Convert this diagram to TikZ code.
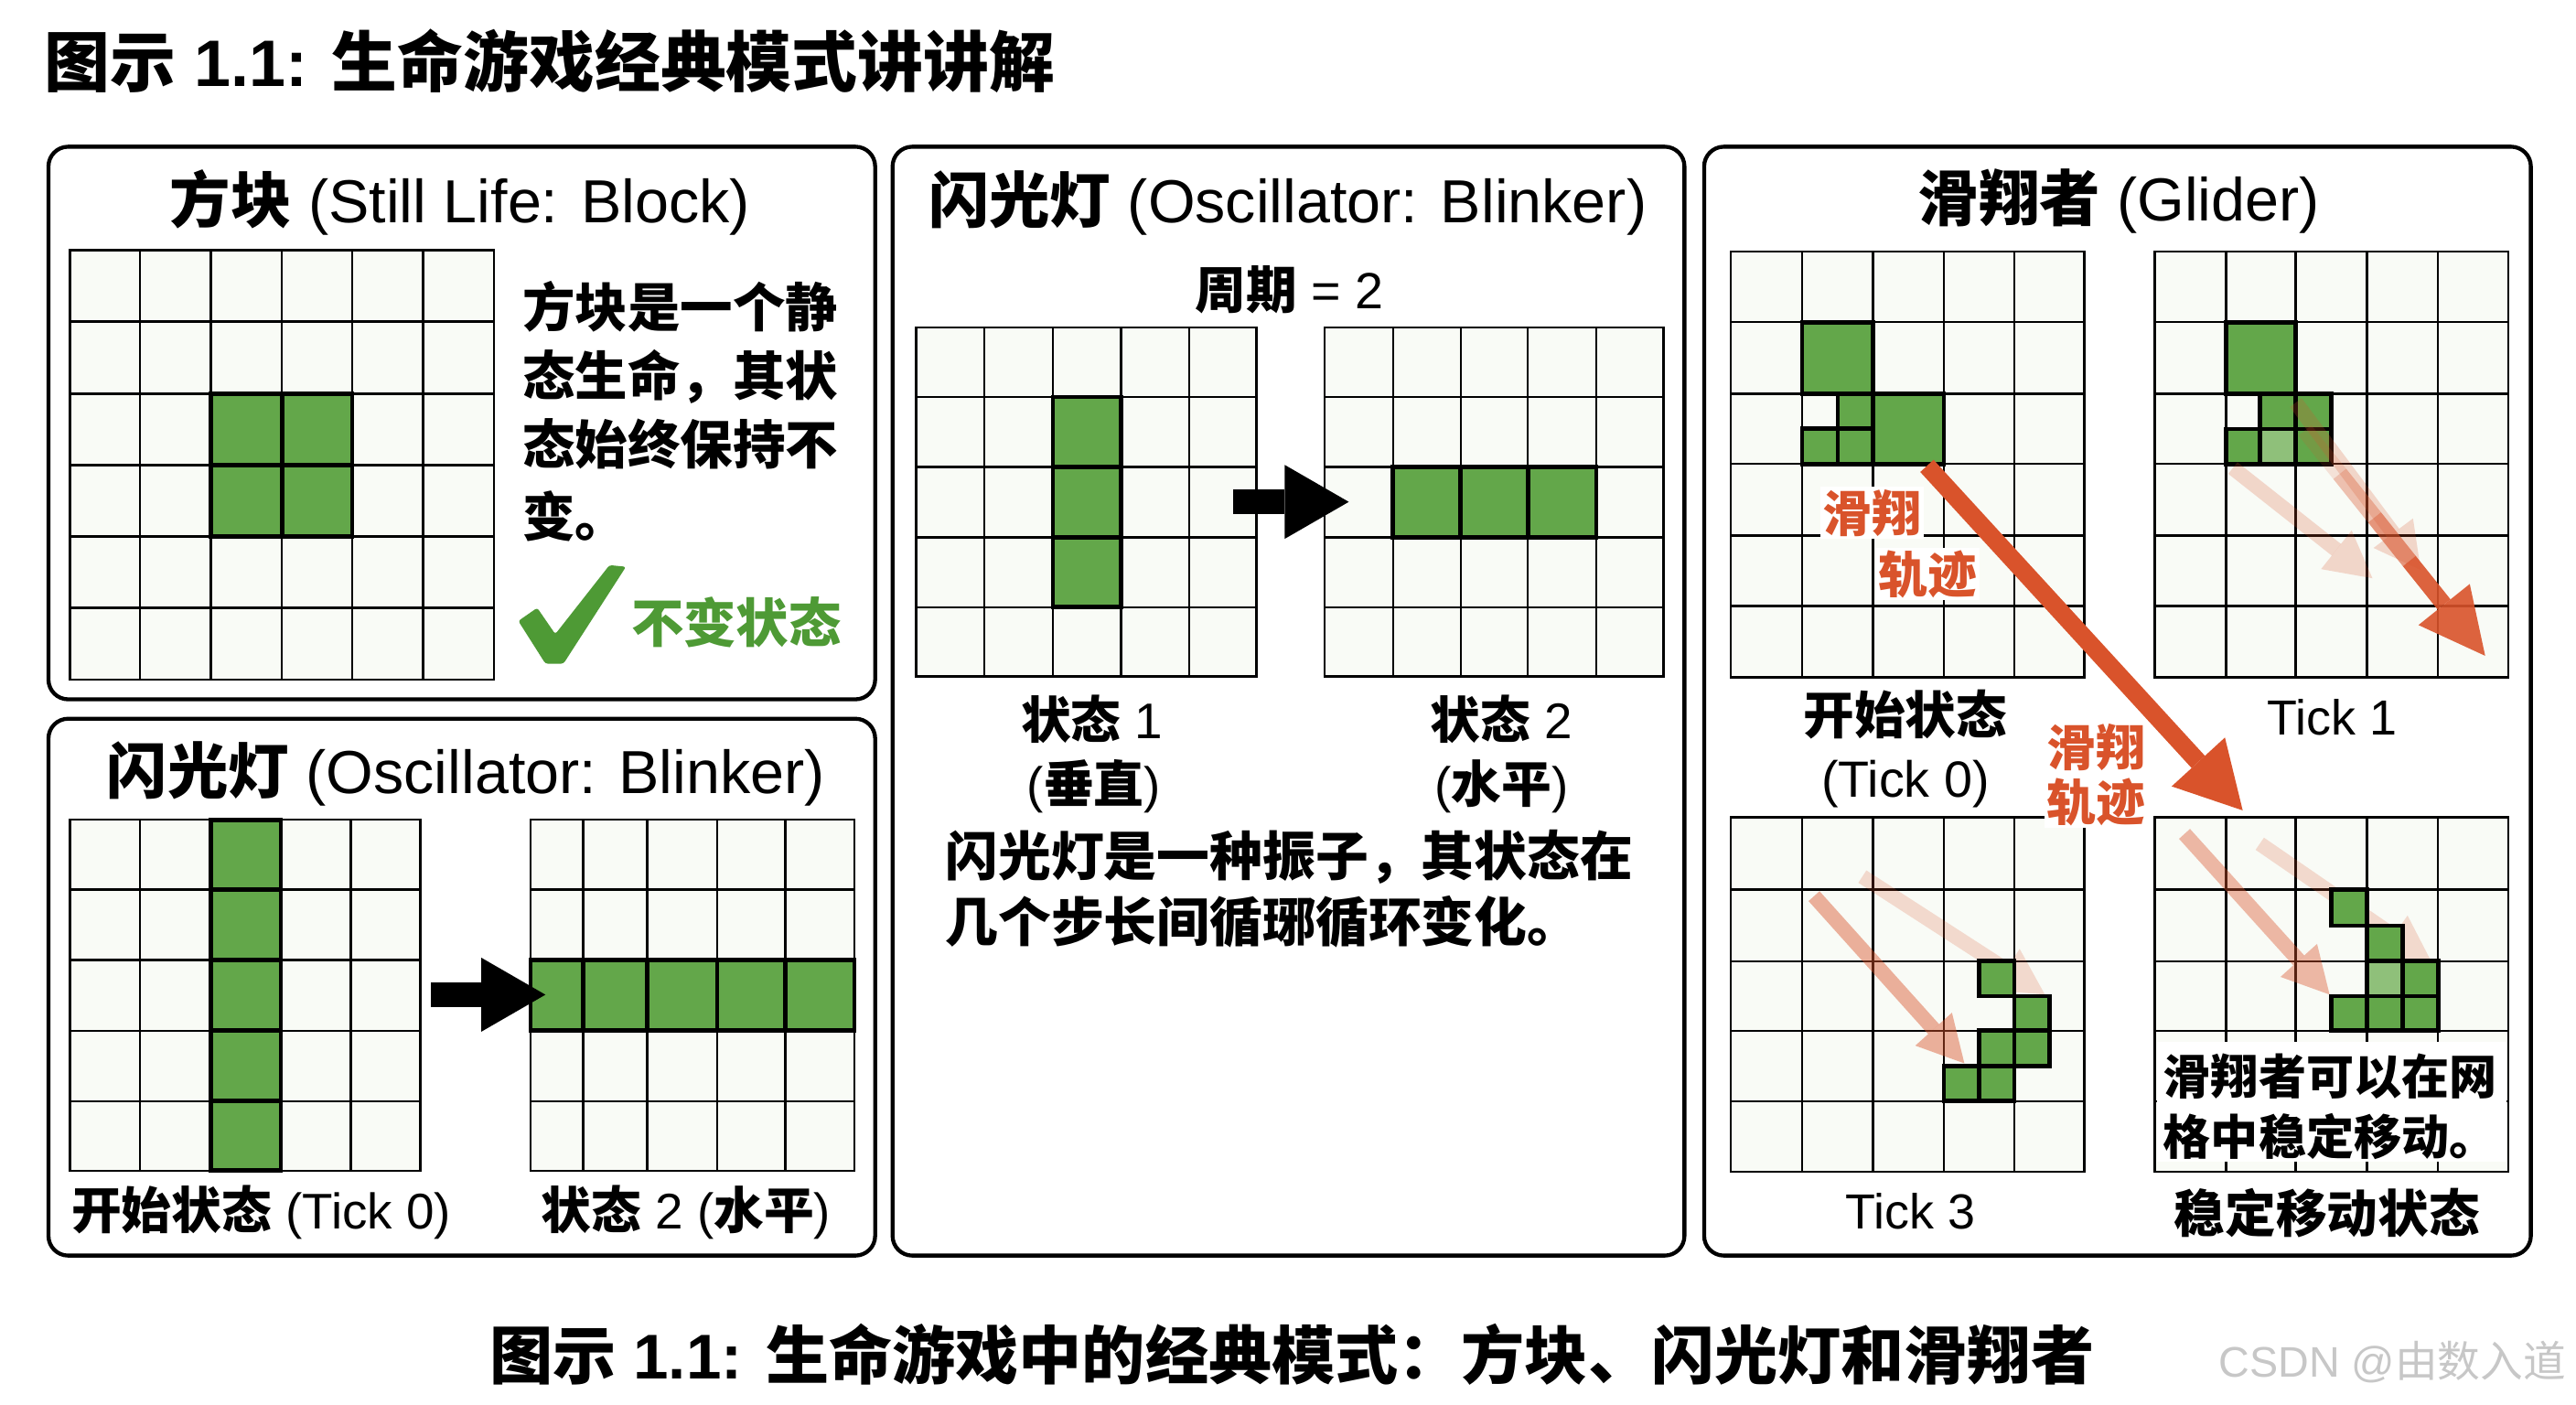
\documentclass[tikz,border=0pt]{standalone}
\usepackage{fontspec}
\setmainfont{Liberation Sans}
\newfontfamily\cjk{Noto Sans CJK SC}
\usetikzlibrary{arrows.meta}
\definecolor{lifegreen}{HTML}{63A74A}
\definecolor{paleliving}{HTML}{8FC07A}
\definecolor{okgreen}{HTML}{4E9A35}
\definecolor{trail}{HTML}{D9532B}
\definecolor{cellbg}{HTML}{F9FBF6}
\newcommand\zh[1]{{\cjk\bfseries #1}}
\newcommand\fs[1]{\fontsize{#1}{#1}\selectfont}
\tikzset{
  panel/.style={draw=black, line width=2.4pt, rounded corners=12pt, fill=white},
  gline/.style={draw=black, line width=1.4pt, line cap=rect},
  livebox/.style={fill=lifegreen, draw=black, line width=2.6pt},
  palebox/.style={fill=paleliving, draw=black, line width=2.6pt},
  txt/.style={inner sep=0pt, anchor=base},
  blackarrow/.style={draw=black, line width=15pt, -{Triangle[length=39pt,width=45pt,line width=0pt]}},
  trailarrow/.style={draw=trail, line width=11pt, -{Triangle[length=40pt,width=44pt,line width=0pt]}},
  fadearrow/.style={draw=trail, line width=9pt, -{Triangle[length=28pt,width=30pt,line width=0pt]}},
  olabel/.style={text=trail, fill=white, inner sep=1.5pt, font=\fs{30}},
}
\newcommand\lifegrid[6]{%
  \fill[cellbg] (#1,#3) rectangle (#2,#4);
  \foreach \gx in {#5} {\draw[gline] (\gx,#3) -- (\gx,#4);}
  \foreach \gy in {#6} {\draw[gline] (#1,\gy) -- (#2,\gy);}
}
\newcommand\lc[4]{\draw[livebox] (#1,#2) rectangle (#3,#4);}
\newcommand\lcp[4]{\draw[palebox] (#1,#2) rectangle (#3,#4);}
\begin{document}
\begin{tikzpicture}[x=1pt, y=-1pt]
\useasboundingbox (0,0) rectangle (1568,855);
\fill[white] (0,0) rectangle (1568,855);

% ---------- title ----------
\node[txt, anchor=base west, font=\fs{40}\bfseries] (title) at (27,52.8) {\zh{图示} 1.1: \zh{生命游戏经典模式讲讲解}};

% ---------- panels ----------
\draw[panel] (29.5,89.3) rectangle (532.7,425.7);
\draw[panel] (29.5,437.5) rectangle (532.7,764.3);
\draw[panel] (543.3,89.3) rectangle (1025.3,764.3);
\draw[panel] (1037.3,89.3) rectangle (1540.5,764.3);

% ---------- panel A : block ----------
\node[txt, font=\fs{37}] (tA) at (280,135.7) {\zh{方块} (Still Life: Block)};
\lifegrid{42.5}{300.6}{152.4}{413.6}{42.5,85.3,128.4,171.6,214.4,257.5,300.6}{152.4,195.8,239.8,283.1,326.7,370.0,413.6}
\lc{128.4}{239.8}{171.6}{283.1}
\lc{171.6}{239.8}{214.4}{283.1}
\lc{128.4}{283.1}{171.6}{326.7}
\lc{171.6}{283.1}{214.4}{326.7}
\node[txt, anchor=base west, font=\fs{32}] (bA1) at (318,198.8) {\zh{方块是一个静}};
\node[txt, anchor=base west, font=\fs{32}] (bA2) at (318,240.7) {\zh{态生命，其状}};
\node[txt, anchor=base west, font=\fs{32}] (bA3) at (318,282.5) {\zh{态始终保持不}};
\node[txt, anchor=base west, font=\fs{32}] (bA4) at (318,326.6) {\zh{变。}};
\fill[okgreen, rounded corners=1.5pt] (315.5,378) -- (327,370) -- (338,386) -- (371,344) -- (381,345) -- (343,404) -- (332,404) -- cycle;
\node[txt, anchor=base west, font=\fs{32}, text=okgreen] (okA) at (384,391.3) {\zh{不变状态}};

% ---------- panel B : small blinker ----------
\node[txt, font=\fs{37}] (tB) at (283.6,483.2) {\zh{闪光灯} (Oscillator: Blinker)};
\lifegrid{42.5}{255.9}{499}{712.6}{42.5,85.3,128.4,170.9,213.4,255.9}{499,541.6,584.5,627.4,670.3,712.6}
\foreach \ry/\rz in {499/541.6,541.6/584.5,584.5/627.4,627.4/670.3,670.3/712.6} {\lc{128.4}{\ry}{170.9}{\rz}}
\lifegrid{323}{520}{499}{712.6}{323,355,394,436.6,478,520}{499,541.6,584.5,627.4,670.3,712.6}
\foreach \cx/\cz in {323/355,355/394,394/436.6,436.6/478,478/520} {\lc{\cx}{584.5}{\cz}{627.4}}
\coordinate (bArrS) at (262.4,605.5);
\coordinate (bArrE) at (332,605.5);
\draw[blackarrow] (bArrS) -- (bArrE);
\node[txt, font=\fs{30.5}] (lB1) at (159,748.1) {\zh{开始状态} (Tick 0)};
\node[txt, font=\fs{30.5}] (lB2) at (417.6,748.1) {\zh{状态} 2 (\zh{水平})};

% ---------- panel C : blinker ----------
\node[txt, font=\fs{37}] (tC) at (783.8,135.7) {\zh{闪光灯} (Oscillator: Blinker)};
\node[txt, font=\fs{31}] (period) at (784.7,187.7) {\zh{周期} = 2};
\lifegrid{557.7}{764.8}{199.2}{411.7}{557.7,599.2,640.8,682.3,723.9,764.8}{199.2,241.7,284.2,327.1,369.6,411.7}
\lc{640.8}{241.7}{682.3}{284.2}
\lc{640.8}{284.2}{682.3}{327.1}
\lc{640.8}{327.1}{682.3}{369.6}
\lifegrid{806.3}{1012.5}{199.2}{411.7}{806.3,847.9,889.1,930,971.6,1012.5}{199.2,241.7,284.2,327.1,369.6,411.7}
\lc{847.9}{284.2}{889.1}{327.1}
\lc{889.1}{284.2}{930}{327.1}
\lc{930}{284.2}{971.6}{327.1}
\coordinate (cArrS) at (750.6,305.5);
\coordinate (cArrE) at (821,305.5);
\draw[blackarrow] (cArrS) -- (cArrE);
\node[txt, font=\fs{30.5}] (lC1) at (664.7,449.6) {\zh{状态} 1};
\node[txt, font=\fs{30.5}] (lC2) at (665.9,488.6) {(\zh{垂直})};
\node[txt, font=\fs{30.5}] (lC3) at (914,449.6) {\zh{状态} 2};
\node[txt, font=\fs{30.5}] (lC4) at (914,488.6) {(\zh{水平})};
\node[txt, anchor=base west, font=\fs{32.2}] (bC1) at (575.2,533.2) {\zh{闪光灯是一种振子，其状态在}};
\node[txt, anchor=base west, font=\fs{32.2}] (bC2) at (575.2,573.2) {\zh{几个步长间循琊循环变化。}};

% ---------- panel D : glider ----------
\node[txt, font=\fs{37}] (tD) at (1289.7,134.7) {\zh{滑翔者} (Glider)};
% tick 0
\lifegrid{1053.6}{1268.6}{153.1}{412.2}{1053.6,1097.0,1140.2,1183.3,1226.1,1268.6}{153.1,196.1,239.6,282.4,325.9,368.9,412.2}
\lc{1097.0}{196.1}{1140.2}{239.6}
\lc{1118.6}{239.6}{1140.2}{260.7}
\lc{1097.0}{260.7}{1118.6}{282.4}
\lc{1118.6}{260.7}{1140.2}{282.4}
\lc{1140.2}{239.6}{1183.3}{282.4}
% tick 1
\lifegrid{1311.7}{1526.8}{153.1}{412.2}{1311.7,1354.9,1397.4,1440.8,1484.0,1526.8}{153.1,196.1,239.6,282.4,325.9,368.9,412.2}
\lc{1354.9}{196.1}{1397.4}{239.6}
\lc{1375.5}{239.6}{1397.4}{261.2}
\lc{1397.4}{239.6}{1419.0}{261.2}
\lc{1354.9}{261.2}{1375.5}{282.4}
\lcp{1375.5}{261.2}{1397.4}{282.4}
\lc{1397.4}{261.2}{1419.0}{282.4}
\coordinate (t1fa) at (1397.4,245.1);
\coordinate (t1fb) at (1473.5,347);
\coordinate (t1fc) at (1359.1,284.9);
\coordinate (t1fd) at (1444.1,352);
\draw[fadearrow, opacity=0.22] (t1fa) -- (t1fb);
\draw[fadearrow, opacity=0.22] (t1fc) -- (t1fd);
\coordinate (t1s0) at (1403,262);
\coordinate (t1s1) at (1424.2,288.5);
\coordinate (t1s2) at (1445.4,315);
\coordinate (t1s3) at (1466.5,341.5);
\coordinate (t1tip) at (1512.7,399.2);
\draw[draw=trail, line width=10pt, opacity=0.15] (t1s0) -- (t1s1);
\draw[draw=trail, line width=10pt, opacity=0.35] (t1s1) -- (t1s2);
\draw[draw=trail, line width=10pt, opacity=0.6] (t1s2) -- (t1s3);
\draw[draw=trail, line width=10pt, opacity=0.9, -{Triangle[length=40pt,width=40pt,line width=0pt]}] (t1s3) -- (t1tip);
% tick 3
\lifegrid{1053.6}{1268.6}{497.6}{713.2}{1053.6,1097.0,1140.2,1183.3,1226.1,1268.6}{497.6,541.6,585.1,627.4,670.3,713.2}
\coordinate (t3fa) at (1104.2,545.5);
\coordinate (t3fb) at (1195.7,647.3);
\coordinate (t3fc) at (1133.6,533.6);
\coordinate (t3fd) at (1244.7,605.4);
\draw[fadearrow, opacity=0.2] (t3fc) -- (t3fd);
\draw[fadearrow, opacity=0.45] (t3fa) -- (t3fb);
\lc{1204.7}{585.1}{1226.1}{606.3}
\lc{1226.1}{606.3}{1247.4}{627.4}
\lc{1226.1}{627.4}{1247.4}{648.9}
\lc{1204.7}{627.4}{1226.1}{648.9}
\lc{1183.3}{648.9}{1204.7}{670.3}
\lc{1204.7}{648.9}{1226.1}{670.3}
% steady state
\lifegrid{1311.7}{1526.8}{497.6}{713.2}{1311.7,1354.9,1397.4,1440.8,1484.0,1526.8}{497.6,541.6,585.1,627.4,670.3,713.2}
\coordinate (t4fa) at (1329.7,507.6);
\coordinate (t4fb) at (1418,605.4);
\coordinate (t4fc) at (1375.5,513.6);
\coordinate (t4fd) at (1480,585.5);
\draw[fadearrow, opacity=0.2] (t4fc) -- (t4fd);
\draw[fadearrow, opacity=0.4] (t4fa) -- (t4fb);
\lc{1419.1}{541.6}{1440.8}{563.4}
\lc{1440.8}{563.4}{1462.4}{585.1}
\lcp{1440.8}{585.1}{1462.4}{606.3}
\lc{1462.4}{585.1}{1484.0}{606.3}
\lc{1419.1}{606.3}{1440.8}{627.4}
\lc{1440.8}{606.3}{1462.4}{627.4}
\lc{1462.4}{606.3}{1484.0}{627.4}
\fill[white] (1313,634) rectangle (1525.5,707);
\node[txt, anchor=base west, font=\fs{29}] (bD1) at (1316.6,666) {\zh{滑翔者可以在网}};
\node[txt, anchor=base west, font=\fs{29}] (bD2) at (1316.6,702.9) {\zh{格中稳定移动。}};
% labels
\node[txt, font=\fs{31}] (lD1) at (1159.8,446.8) {\zh{开始状态}};
\node[txt, font=\fs{31}] (lD2) at (1159.8,485.5) {(Tick 0)};
\node[txt, font=\fs{30}] (lD3) at (1419.6,447.6) {Tick 1};
\node[txt, font=\fs{30}] (lD4) at (1163,748.3) {Tick 3};
\node[txt, font=\fs{31}] (lD5) at (1416.4,750.4) {\zh{稳定移动状态}};
\node[olabel] (oa) at (1139.4,312.2) {\zh{滑翔}};
\node[olabel] (ob) at (1173.6,349.5) {\zh{轨迹}};
\node[olabel] (oc) at (1276,454.7) {\zh{滑翔}};
\node[olabel] (od) at (1276,488.1) {\zh{轨迹}};
\coordinate (gStart) at (1172.9,283.6);
\coordinate (gEnd) at (1365.1,493.3);
\draw[trailarrow] (gStart) -- (gEnd);

% ---------- caption ----------
\node[txt, font=\fs{38.5}\bfseries] (caption) at (786.3,839.2) {\zh{图示} 1.1: \zh{生命游戏中的经典模式：方块、闪光灯和滑翔者}};
\node[txt, anchor=base east, font=\fs{26}, text=black!22] (wm) at (1562,838) {CSDN @{\cjk 由数入道}};
\end{tikzpicture}
\end{document}
